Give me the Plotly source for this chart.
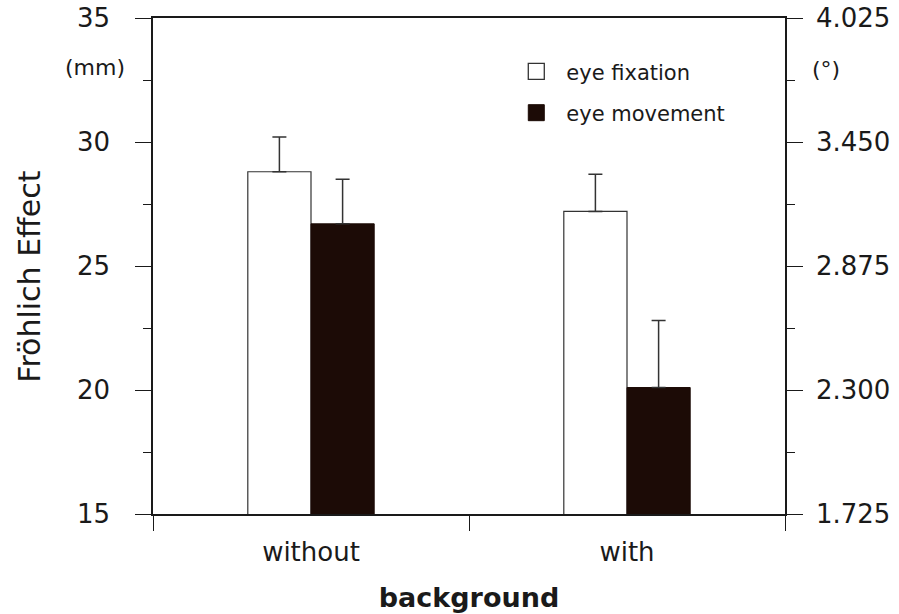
import plotly.graph_objects as go

categories = ["without", "with"]
fixation = [28.8, 27.2]
fixation_err = [1.4, 1.5]
movement = [26.7, 20.1]
movement_err = [1.8, 2.7]

left_ticks = [15, 20, 25, 30, 35]
right_ticks = [1.725, 2.300, 2.875, 3.450, 4.025]

W, H = 899, 614
L, R, T, B = 153, 114, 18, 100
FONT = "DejaVu Sans, Liberation Sans, Arial, sans-serif"
INK = "#1a1a1a"
DARK = "#1c0b06"

fig = go.Figure()
fig.add_trace(go.Bar(
    x=categories, y=fixation, name="eye fixation", showlegend=False,
    marker=dict(color="white", line=dict(color="#333", width=1.2)),
    error_y=dict(type="data", symmetric=False, array=fixation_err,
                 arrayminus=[0, 0], color="#333", thickness=1.5, width=7),
))
fig.add_trace(go.Bar(
    x=categories, y=movement, name="eye movement", showlegend=False,
    marker=dict(color=DARK, line=dict(color=DARK, width=1)),
    error_y=dict(type="data", symmetric=False, array=movement_err,
                 arrayminus=[0, 0], color="#333", thickness=1.5, width=7),
))
# legend entries with square swatches
fig.add_trace(go.Scatter(
    x=[None], y=[None], mode="markers", name="eye fixation", legendgroup="a",
    marker=dict(symbol="square", size=16, color="white",
                line=dict(color="#333", width=1.3)),
))
fig.add_trace(go.Scatter(
    x=[None], y=[None], mode="markers", name="eye movement", legendgroup="b",
    marker=dict(symbol="square", size=16, color=DARK,
                line=dict(color=DARK, width=1)),
))
# invisible trace carrying the secondary (degrees) axis
fig.add_trace(go.Scatter(x=categories, y=[None, None], yaxis="y2",
                         showlegend=False, hoverinfo="skip"))

fig.update_layout(
    width=W, height=H,
    margin=dict(l=L, r=R, t=T, b=B, autoexpand=False),
    paper_bgcolor="white", plot_bgcolor="white",
    font=dict(family=FONT, color=INK),
    barmode="group", bargap=0.6, bargroupgap=0,
    showlegend=True,
    legend=dict(x=0.559, y=0.933, xanchor="left", yanchor="top",
                bgcolor="rgba(0,0,0,0)", font=dict(size=21, family=FONT),
                itemwidth=50, tracegroupgap=11),
    xaxis=dict(
        type="category", range=[-0.5, 1.5], automargin=False,
        showline=True, linecolor=INK, linewidth=1.5,
        ticks="outside", tickson="boundaries", ticklen=15, tickcolor=INK,
        tickwidth=1.2, tickfont=dict(size=26), ticklabelstandoff=14,
        title=dict(text="<b>background</b>", font=dict(size=27), standoff=22),
        showgrid=False, mirror=True, zeroline=False,
    ),
    yaxis=dict(
        range=[15, 35], tickmode="array", tickvals=left_ticks,
        automargin=False,
        showline=True, linecolor=INK, linewidth=1.5,
        ticks="outside", ticklen=16, tickcolor=INK, tickwidth=1.2,
        tickfont=dict(size=26), ticklabelstandoff=20,
        minor=dict(ticks="outside", ticklen=8, dtick=2.5, tick0=15,
                   tickcolor=INK, showgrid=False),
        showgrid=False, zeroline=False,
    ),
    yaxis2=dict(
        overlaying="y", side="right", automargin=False,
        range=[1.725, 4.025], tickmode="array", tickvals=right_ticks,
        ticktext=[f"{v:.3f}" for v in right_ticks],
        showline=True, linecolor=INK, linewidth=1.5,
        ticks="outside", ticklen=16, tickcolor=INK, tickwidth=1.2,
        tickfont=dict(size=26), ticklabelstandoff=8,
        minor=dict(ticks="outside", ticklen=8, dtick=0.2875, tick0=1.725,
                   tickcolor=INK, showgrid=False),
        showgrid=False, zeroline=False,
    ),
    annotations=[
        dict(text="Fröhlich Effect", xref="paper", yref="paper",
             x=-0.195, y=0.478, textangle=-90, xanchor="center",
             yanchor="middle", showarrow=False,
             font=dict(size=30, family=FONT, color=INK)),
        dict(text="(mm)", xref="paper", yref="paper", x=-0.092, y=0.90,
             xanchor="center", yanchor="middle", showarrow=False,
             font=dict(size=22, family=FONT, color=INK)),
        dict(text="(°)", xref="paper", yref="paper", x=1.04, y=0.897,
             xanchor="left", yanchor="middle", showarrow=False,
             font=dict(size=22, family=FONT, color=INK)),
    ],
)

fig.write_html("out.html")
